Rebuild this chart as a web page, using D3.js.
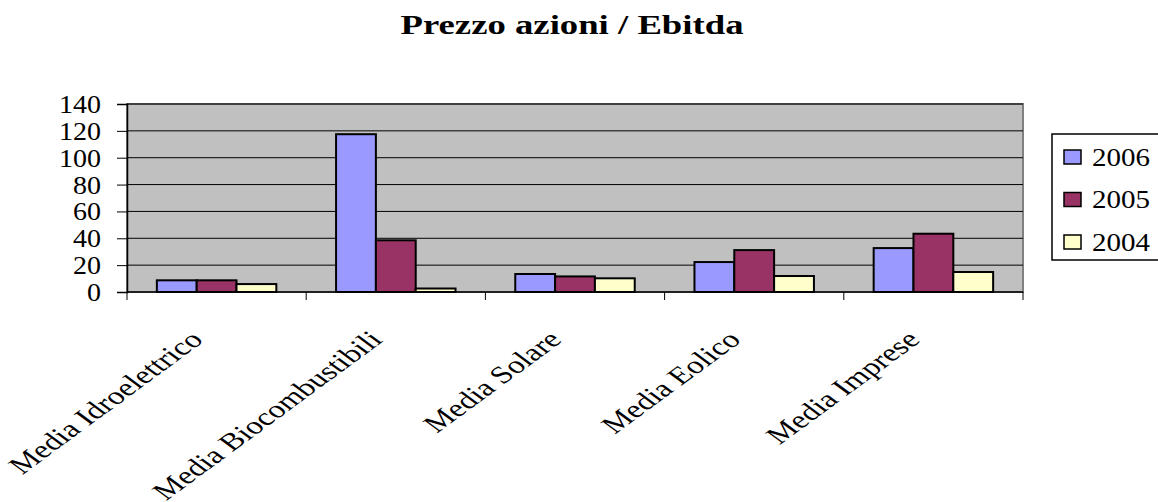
<!DOCTYPE html>
<html>
<head>
  <title>Prezzo azioni / Ebitda</title>
  <script src="https://d3js.org/d3.v7.min.js"></script>
  <style>
  body {
    margin: 0;
    background: #fff;
  }

  svg {
    display: block;
    background: #fff;
  }

  svg text {
    font-family: "Liberation Serif", "Times New Roman", serif;
    fill: #000;
  }
  </style>
</head>
<body>
  <script>

    var categories = ["Media Idroelettrico", "Media Biocombustibili", "Media Solare", "Media Eolico", "Media Imprese"];
    var years = ["2006", "2005", "2004"];
    var values2006 = [8.7, 117.5, 13.4, 22.3, 32.7];
    var values2005 = [8.7, 38.5, 11.6, 31.2, 43.4];
    var values2004 = [5.9, 2.6, 10.2, 11.9, 14.9];
    var yTicks = [0, 20, 40, 60, 80, 100, 120, 140];
    var colors = ["#9999ff", "#993366", "#ffffcc"];

    var seriesValues = [values2006, values2005, values2004];

    var width = 1158;
    var height = 502;

    // the original picture is stretched sideways, rotated labels too
    var stretch = 1.36;

    var plot = { left: 127, right: 1023, top: 104, bottom: 292 };

    var svg = d3.select("body")
      .append("svg")
      .attr("width", width)
      .attr("height", height);

    var x0 = d3.scaleBand()
      .domain(categories)
      .range([plot.left, plot.right])
      .paddingInner(0)
      .paddingOuter(0);

    // excel gap width 150% -> 0.75 bar width each side
    var x1 = d3.scaleBand()
      .domain(years)
      .range([0, x0.bandwidth()])
      .paddingInner(0)
      .paddingOuter(0.75);

    var y = d3.scaleLinear()
      .domain([0, 140])
      .range([plot.bottom, plot.top]);

    // title
    svg.append("text")
      .attr("x", 572)
      .attr("y", 34)
      .attr("text-anchor", "middle")
      .style("font-size", "27px")
      .style("font-weight", "bold")
      .attr("textLength", 343)
      .attr("lengthAdjust", "spacingAndGlyphs")
      .text("Prezzo azioni / Ebitda");

    // plot area
    svg.append("rect")
      .attr("x", plot.left)
      .attr("y", plot.top)
      .attr("width", plot.right - plot.left)
      .attr("height", plot.bottom - plot.top)
      .attr("fill", "#c0c0c0")
      .attr("stroke", "#808080")
      .attr("stroke-width", 2);

    // gridlines
    svg.append("g")
      .selectAll("line")
      .data(yTicks.slice(1))
      .enter()
      .append("line")
      .attr("x1", plot.left)
      .attr("x2", plot.right)
      .attr("y1", function(d) { return y(d); })
      .attr("y2", function(d) { return y(d); })
      .attr("stroke", "#000")
      .attr("stroke-width", 1);

    // bars
    var groups = svg.append("g")
      .selectAll("g")
      .data(years)
      .enter()
      .append("g")
      .attr("fill", function(d, i) { return colors[i]; });

    groups.selectAll("rect")
      .data(function(yr, i) {
        return seriesValues[i].map(function(v, j) {
          return { year: yr, cat: categories[j], value: v };
        });
      })
      .enter()
      .append("rect")
      .attr("x", function(d) { return x0(d.cat) + x1(d.year); })
      .attr("y", function(d) { return y(d.value); })
      .attr("width", x1.bandwidth())
      .attr("height", function(d) { return y(0) - y(d.value); })
      .attr("stroke", "#000")
      .attr("stroke-width", 2);

    // y axis
    var yAxis = svg.append("g")
      .attr("transform", "translate(" + plot.left + ",0)")
      .call(d3.axisLeft(y).tickValues(yTicks).tickSize(10).tickPadding(16));
    yAxis.attr("font-family", null);
    yAxis.select(".domain").attr("stroke", "#000").attr("stroke-width", 1.5);
    yAxis.selectAll(".tick line").attr("stroke", "#000");
    yAxis.selectAll(".tick text")
      .style("font-family", "'Liberation Serif', serif")
      .style("font-size", "25px")
      .attr("dy", "0.34em")
      .each(function() {
        var w = this.getComputedTextLength();
        this.setAttribute("textLength", w * 1.12);
        this.setAttribute("lengthAdjust", "spacingAndGlyphs");
      });

    // x axis
    var xAxis = svg.append("g")
      .attr("transform", "translate(0," + plot.bottom + ")");
    xAxis.append("line")
      .attr("x1", plot.left)
      .attr("x2", plot.right)
      .attr("stroke", "#000")
      .attr("stroke-width", 1.5);
    xAxis.selectAll(".cat-tick")
      .data(categories.concat([null]))
      .enter()
      .append("line")
      .attr("class", "cat-tick")
      .attr("x1", function(d) { return d ? x0(d) : plot.right; })
      .attr("x2", function(d) { return d ? x0(d) : plot.right; })
      .attr("y1", 0)
      .attr("y2", 8)
      .attr("stroke", "#000");

    svg.append("g")
      .selectAll("text")
      .data(categories)
      .enter()
      .append("text")
      .attr("transform", function(d) {
        return "translate(" + (x0(d) + x0.bandwidth() / 2 - 12) + ",341) scale(" + stretch + ",1) rotate(-45)";
      })
      .attr("text-anchor", "end")
      .style("font-size", "24.5px")
      .text(function(d) { return d; });

    // legend
    var legendY = d3.scalePoint()
      .domain(years)
      .range([157, 242]);

    var legend = svg.append("g");
    legend.append("rect")
      .attr("x", 1052)
      .attr("y", 134)
      .attr("width", 120)
      .attr("height", 126)
      .attr("fill", "#fff")
      .attr("stroke", "#000")
      .attr("stroke-width", 1.5);

    var items = legend.selectAll(".item")
      .data(years)
      .enter()
      .append("g")
      .attr("class", "item")
      .attr("transform", function(d) { return "translate(0," + legendY(d) + ")"; });

    items.append("rect")
      .attr("x", 1064)
      .attr("y", -7)
      .attr("width", 17)
      .attr("height", 14)
      .attr("fill", function(d, i) { return colors[i]; })
      .attr("stroke", "#000")
      .attr("stroke-width", 1.5);

    items.append("text")
      .attr("x", 1092)
      .attr("dy", "0.35em")
      .style("font-size", "25px")
      .attr("textLength", 58)
      .attr("lengthAdjust", "spacingAndGlyphs")
      .text(function(d) { return d; });

  </script>
</body>
</html>
